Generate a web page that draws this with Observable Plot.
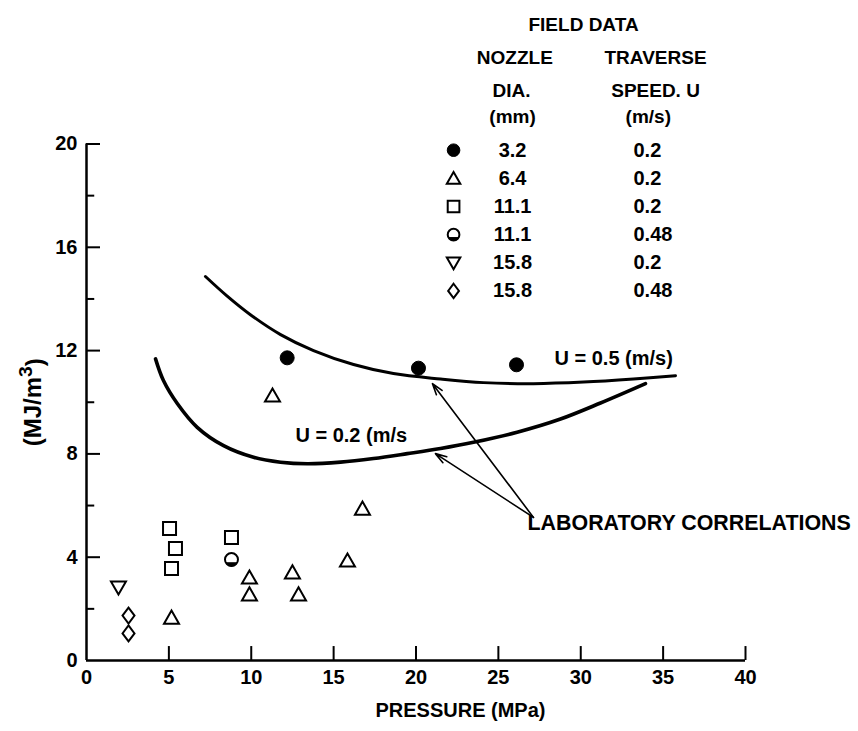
<!DOCTYPE html>
<html>
<head>
<meta charset="utf-8">
<script src="https://cdn.jsdelivr.net/npm/d3@7"></script>
<script src="https://cdn.jsdelivr.net/npm/@observablehq/plot@0.6"></script>
<style>
  body { margin: 0; background: #fff; }
  svg { font-family: "Liberation Sans", Arial, sans-serif; font-weight: bold; }
</style>
</head>
<body>
<div id="chart"></div>
<script>
// ---------------- DATA ----------------
const xTicks = [0, 5, 10, 15, 20, 25, 30, 35, 40];
const yTicksMajor = [0, 4, 8, 12, 16, 20];
const yTicksMinor = [2, 6, 10, 14, 18];

// Laboratory correlation curves (pressure MPa, specific energy MJ/m3)
const curveU05P = [7.22, 8.54, 9.95, 11.78, 13.78, 16.21, 18.63, 21.49, 24.10, 27.13, 30.17, 33.20, 35.75];
const curveU05E = [14.87, 14.11, 13.39, 12.62, 12.00, 11.46, 11.11, 10.90, 10.76, 10.72, 10.78, 10.90, 11.03];
const curveU02P = [4.19, 4.67, 5.51, 6.72, 8.32, 10.14, 11.78, 13.40, 15.42, 17.42, 19.47, 21.49, 23.49, 26.14, 28.77, 31.20, 33.93];
const curveU02E = [11.68, 10.84, 9.95, 9.03, 8.32, 7.87, 7.68, 7.62, 7.68, 7.82, 8.01, 8.21, 8.45, 8.84, 9.35, 9.97, 10.72];

// Field data
const d32P = [12.18, 20.15, 26.10];             // 3.2 mm, 0.2 m/s (filled circle)
const d32E = [11.72, 11.32, 11.45];
const d64P = [11.29, 16.75, 9.89, 9.89, 12.50, 12.87, 15.84, 5.16]; // 6.4 mm, 0.2 (triangle)
const d64E = [10.26, 5.88, 3.21, 2.56, 3.41, 2.56, 3.87, 1.66];
const d111aP = [5.04, 5.40, 5.16, 8.80];         // 11.1 mm, 0.2 (square)
const d111aE = [5.11, 4.34, 3.56, 4.76];
const d111bP = [8.80];                           // 11.1 mm, 0.48 (capped circle)
const d111bE = [3.91];
const d158aP = [1.94];                           // 15.8 mm, 0.2 (down triangle)
const d158aE = [2.83];
const d158bP = [2.55, 2.55];                     // 15.8 mm, 0.48 (diamond)
const d158bE = [1.74, 1.05];

// Legend text
const legendTitle = "FIELD DATA";
const legendHead1 = ["NOZZLE", "DIA.", "(mm)"];
const legendHead2 = ["TRAVERSE", "SPEED. U", "(m/s)"];
const legendNozzle = ["3.2", "6.4", "11.1", "11.1", "15.8", "15.8"];
const legendSpeed = ["0.2", "0.2", "0.2", "0.48", "0.2", "0.48"];

// Annotation text
const labelU05 = "U = 0.5 (m/s)";
const labelU02 = "U = 0.2 (m/s";
const labelLab = "LABORATORY CORRELATIONS";
const xLabel = "PRESSURE (MPa)";
const yLabel = "(MJ/m³)";

// ---------------- LAYOUT (data units) ----------------
const xTickLen = 0.54;        // inward x-tick length, in y units (~14 px)
const yTickLenMajor = 0.85;   // inward y-tick length, in x units (~14 px)
const yTickLenMinor = 0.5;    // (~8 px)
const legendSymX = 22.28, legendNozX = 25.86, legendSpdX = 33.2;
const legendRowY0 = 19.76, legendRowStep = 1.09;
const legendHeadY = [23.34, 22.07, 21.05];
const legendHead1X = [26.0, 25.8, 25.86];
const legendHead2X = [34.54, 34.54, 34.1];
const legendTitlePos = {x: 30.17, y: 24.62};
const posU05 = {x: 32.0, y: 11.69};
const posU02 = {x: 16.07, y: 8.71};
const posLab = {x: 26.77, y: 5.3};
const posXLabel = {x: 22.7, y: -1.94};
const arrowTail = {x: 27.13, y: 5.54};
const arrowHeads = [{x: 21.0, y: 10.72}, {x: 21.18, y: 8.01}];

// ---------------- SYMBOLS ----------------
const rad = (size) => Math.sqrt(size / Math.PI);
const symCircle = {draw(c, s) { const r = rad(s); c.moveTo(r, 0); c.arc(0, 0, r, 0, 2 * Math.PI); c.closePath(); }};
const symTriUp = {draw(c, s) { const r = rad(s); c.moveTo(0, -r * 0.95); c.lineTo(r, r * 0.8); c.lineTo(-r, r * 0.8); c.closePath(); }};
const symTriDown = {draw(c, s) { const r = rad(s); c.moveTo(0, r * 0.95); c.lineTo(r, -r * 0.8); c.lineTo(-r, -r * 0.8); c.closePath(); }};
const symSquare = {draw(c, s) { const r = rad(s); c.rect(-r, -r, 2 * r, 2 * r); }};
const symDiamond = {draw(c, s) { const r = rad(s); c.moveTo(0, -r); c.lineTo(r * 0.75, 0); c.lineTo(0, r); c.lineTo(-r * 0.75, 0); c.closePath(); }};
const symCap = {draw(c, s) { const r = rad(s); c.moveTo(r * Math.cos(Math.PI / 6), r * Math.sin(Math.PI / 6)); c.arc(0, 0, r, Math.PI / 6, 5 * Math.PI / 6); c.closePath(); }};

const pts = (xs, ys) => xs.map((x, i) => ({x, y: ys[i]}));

const series = [
  {data: pts(d32P, d32E), symbol: symCircle, r: 7, filled: true},
  {data: pts(d64P, d64E), symbol: symTriUp, r: 7.5},
  {data: pts(d111aP, d111aE), symbol: symSquare, r: 6.5},
  {data: pts(d111bP, d111bE), symbol: symCircle, r: 6.5, cap: true},
  {data: pts(d158aP, d158aE), symbol: symTriDown, r: 7.5},
  {data: pts(d158bP, d158bE), symbol: symDiamond, r: 8}
];

const legendRows = legendNozzle.map((n, i) => ({
  x: legendSymX, y: legendRowY0 - i * legendRowStep, nozzle: n, speed: legendSpeed[i]
}));

function symbolMarks(s, data, scaleR) {
  const r = s.r * scaleR;
  const m = [];
  if (s.filled) {
    m.push(Plot.dot(data, {x: "x", y: "y", symbol: s.symbol, r, fill: "black", stroke: "black", strokeWidth: 1}));
  } else {
    m.push(Plot.dot(data, {x: "x", y: "y", symbol: s.symbol, r, fill: "none", stroke: "black", strokeWidth: 2}));
  }
  if (s.cap) m.push(Plot.dot(data, {x: "x", y: "y", symbol: symCap, r, fill: "black", stroke: "black", strokeWidth: 1}));
  return m;
}

const font = {fontSize: 19, fontWeight: "bold", fill: "black"};

const marks = [
  // axis lines
  Plot.ruleX([0], {y1: 0, y2: 20, strokeWidth: 2.5}),
  Plot.ruleY([0], {x1: 0, x2: 40, strokeWidth: 2.5}),
  // inward ticks
  Plot.ruleX(xTicks.slice(1), {x: d => d, y1: 0, y2: xTickLen, strokeWidth: 2}),
  Plot.ruleY(yTicksMajor.slice(1), {y: d => d, x1: 0, x2: yTickLenMajor, strokeWidth: 2}),
  Plot.ruleY(yTicksMinor, {y: d => d, x1: 0, x2: yTickLenMinor, strokeWidth: 2}),
  // tick labels
  Plot.axisX({ticks: xTicks, tickSize: 0, tickPadding: 9, fontSize: 20, fontWeight: "bold", label: null, tickFormat: d3.format("d")}),
  Plot.axisY({ticks: yTicksMajor, tickSize: 0, tickPadding: 9, fontSize: 20, fontWeight: "bold", label: yLabel, labelAnchor: "center", labelOffset: 63, labelArrow: "none", tickFormat: d3.format("d")}),
  Plot.text([xLabel], {x: posXLabel.x, y: posXLabel.y, text: d => d, ...font, fontSize: 20}),

  // correlation curves
  Plot.line(pts(curveU05P, curveU05E), {x: "x", y: "y", curve: "catmull-rom", strokeWidth: 3, stroke: "black"}),
  Plot.line(pts(curveU02P, curveU02E), {x: "x", y: "y", curve: "catmull-rom", strokeWidth: 3.6, stroke: "black"}),

  // annotations
  Plot.text([labelU05], {x: posU05.x, y: posU05.y, text: d => d, ...font, fontSize: 20}),
  Plot.text([labelU02], {x: posU02.x, y: posU02.y, text: d => d, ...font, fontSize: 20}),
  Plot.text([labelLab], {x: posLab.x, y: posLab.y, text: d => d, ...font, fontSize: 21.4, textAnchor: "start"}),
  Plot.arrow(arrowHeads, {x1: arrowTail.x, y1: arrowTail.y, x2: "x", y2: "y", stroke: "black", strokeWidth: 1.6, headLength: 11, headAngle: 35, insetStart: 0, insetEnd: 0}),

  // legend
  Plot.text([legendTitle], {x: legendTitlePos.x, y: legendTitlePos.y, text: d => d, ...font}),
  Plot.text(legendHead1, {x: (d, i) => legendHead1X[i], y: (d, i) => legendHeadY[i], text: d => d, ...font}),
  Plot.text(legendHead2, {x: (d, i) => legendHead2X[i], y: (d, i) => legendHeadY[i], text: d => d, ...font}),
  Plot.text(legendRows, {x: legendNozX, y: "y", text: "nozzle", ...font, fontSize: 20}),
  Plot.text(legendRows, {x: legendSpdX, y: "y", text: "speed", ...font, fontSize: 20, textAnchor: "start"})
];

series.forEach((s, i) => {
  marks.push(...symbolMarks(s, s.data, 1));
  marks.push(...symbolMarks(s, [legendRows[i]], 0.9));
});

const chart = Plot.plot({
  width: 858,
  height: 731,
  marginLeft: 86,
  marginRight: 113,
  marginTop: 143.5,
  marginBottom: 71,
  x: {domain: [0, 40]},
  y: {domain: [0, 20]},
  style: {background: "white", color: "black", fontFamily: "'Liberation Sans', Arial, sans-serif"},
  marks
});

// Larger y-axis label with a raised, near full-size "3"
const lab = chart.querySelector('g[aria-label="y-axis label"] text');
if (lab) {
  lab.setAttribute("font-size", 24);
  lab.textContent = "";
  const ns = "http://www.w3.org/2000/svg";
  const parts = [["(MJ/m", null, null], ["3", "-0.45em", "0.8em"], [")", "0.45em", null]];
  for (const [t, dy, fs] of parts) {
    const ts = document.createElementNS(ns, "tspan");
    ts.textContent = t;
    if (dy) ts.setAttribute("dy", dy);
    if (fs) ts.setAttribute("font-size", fs);
    lab.appendChild(ts);
  }
}
document.getElementById("chart").append(chart);
</script>
</body>
</html>
